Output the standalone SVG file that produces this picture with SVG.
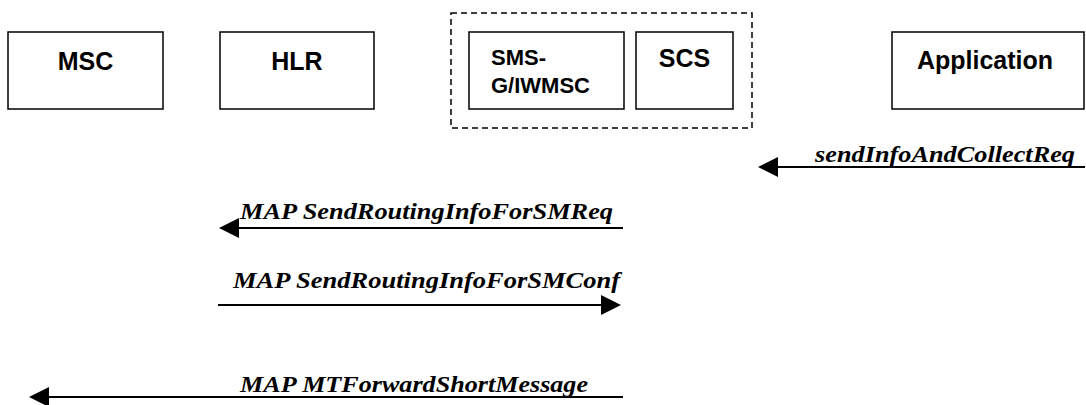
<svg xmlns="http://www.w3.org/2000/svg" width="1086" height="405" viewBox="0 0 1086 405">
<defs>
<style>
.box{fill:#fff;stroke:#000;stroke-width:1.5}
.grp{fill:none;stroke:#000;stroke-width:1.5;stroke-dasharray:6 4}
.lbl{font-family:"Liberation Sans",Arial,sans-serif;font-weight:bold;font-size:25px;fill:#000}
.sm{font-size:22px}
.msg{font-family:"Liberation Serif","Times New Roman",serif;font-weight:bold;font-style:italic;font-size:23px;fill:#000}
.ln{stroke:#000;stroke-width:2;fill:none}
.ah{fill:#000}
</style>
</defs>
<rect width="1086" height="405" fill="#fff"/>
<g id="group-sms-scs"><rect class="grp" x="451" y="13" width="301" height="115"/></g>
<g id="node-msc"><rect class="box" x="8" y="32" width="155" height="77"/><text class="lbl" x="85.5" y="70" text-anchor="middle">MSC</text></g>
<g id="node-hlr"><rect class="box" x="220" y="32" width="154" height="77"/><text class="lbl" x="297" y="70" text-anchor="middle">HLR</text></g>
<g id="node-sms"><rect class="box" x="469" y="32" width="155" height="77"/><text class="lbl sm" x="491" y="65">SMS-</text><text class="lbl sm" x="491" y="93">G/IWMSC</text></g>
<g id="node-scs"><rect class="box" x="636" y="32" width="97" height="77"/><text class="lbl" x="684.5" y="67" text-anchor="middle">SCS</text></g>
<g id="node-app"><rect class="box" x="892" y="32" width="192" height="77"/><text class="lbl" x="985" y="69" text-anchor="middle">Application</text></g>
<g id="connectors">
<line class="ln" x1="1085" y1="167" x2="776" y2="167"/><polygon class="ah" points="758,167 778,157 778,177"/>
<text class="msg" x="815" y="162" textLength="260" lengthAdjust="spacingAndGlyphs">sendInfoAndCollectReq</text>
<line class="ln" x1="623" y1="228" x2="237" y2="228"/><polygon class="ah" points="219,228 239,218 239,238"/>
<text class="msg" x="240" y="219" textLength="373" lengthAdjust="spacingAndGlyphs">MAP SendRoutingInfoForSMReq</text>
<line class="ln" x1="218" y1="305" x2="603" y2="305"/><polygon class="ah" points="621,305 601,295 601,315"/>
<text class="msg" x="233" y="288" textLength="387" lengthAdjust="spacingAndGlyphs">MAP SendRoutingInfoForSMConf</text>
<line class="ln" x1="623" y1="397" x2="47" y2="397"/><polygon class="ah" points="29,397 49,387 49,407"/>
<text class="msg" x="240" y="392" textLength="348" lengthAdjust="spacingAndGlyphs">MAP MTForwardShortMessage</text>
</g>
</svg>
